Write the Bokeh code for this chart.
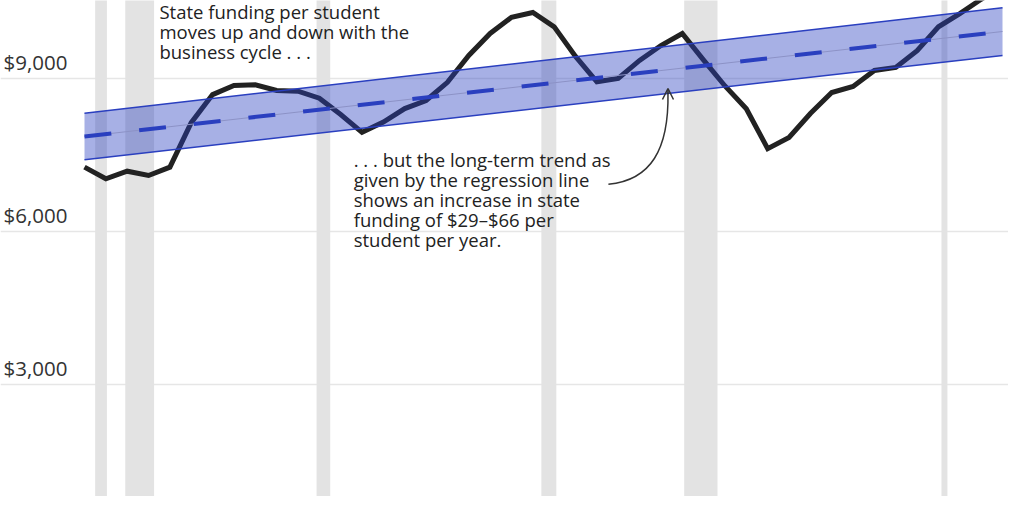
from bokeh.plotting import figure
from bokeh.models import Range1d, Grid, FixedTicker, Label, Arrow, OpenHead
from bokeh.core.properties import value
from bokeh.embed import file_html
from bokeh.resources import INLINE

# state funding per student, one point per year
years = list(range(1980, 2024))
funding = [7266, 7038, 7187, 7103, 7266, 8140, 8690, 8869, 8882, 8770,
           8757, 8620, 8300, 7950, 8150, 8415, 8574, 8930, 9457, 9889,
           10205, 10300, 10020, 9440, 8940, 9006, 9360, 9653, 9889, 9365,
           8859, 8411, 7630, 7848, 8319, 8731, 8849, 9163, 9222, 9550,
           10020, 10280, 10560, 10800]

# regression line and its band, given at the ends of the period
trend_years = [1980, 2023]
trend = [7868, 9928]
trend_low = [7411, 9457]
trend_high = [8325, 10393]

# recessions (start, end) on the same year scale
rec_start = [1980.50, 1981.91, 1990.87, 2001.40, 2008.09, 2020.14]
rec_end = [1981.05, 1983.26, 1991.51, 2002.10, 2009.65, 2020.42]

tick_values = [3000, 6000, 9000]
tick_labels = ["$3,000", "$6,000", "$9,000"]

note1 = ["State funding per student",
         "moves up and down with the",
         "business cycle . . ."]
note2 = [". . . but the long-term trend as",
         "given by the regression line",
         "shows an increase in state",
         "funding of $29\u2013$66 per",
         "student per year."]

FONT = "Open Sans"
INK = "#222222"
BLUE = "#2a3fbf"
X0, X1 = 1976.066, 2023.28

p = figure(width=1008, height=496, output_backend="svg", toolbar_location=None,
           x_axis_location=None, y_axis_location=None, min_border=0,
           x_range=Range1d(X0, X1), y_range=Range1d(804, 10536))
p.outline_line_color = None
p.background_fill_color = "white"
p.border_fill_color = "white"
p.grid.visible = False

p.add_layout(Grid(dimension=1, ticker=FixedTicker(ticks=tick_values),
                  grid_line_color="#e6e6e6", grid_line_width=1.5))

# recession bars
p.quad(left=rec_start, right=rec_end, bottom=0, top=12000,
       fill_color="#e3e3e3", line_color=None)

# funding line
p.line(years, funding, line_color=INK, line_width=5, line_join="miter")

# band on top of the line, semi transparent
p.varea(x=trend_years, y1=trend_low, y2=trend_high, fill_color=BLUE, fill_alpha=0.41)
p.line(trend_years, trend_low, line_color=BLUE, line_width=1.5)
p.line(trend_years, trend_high, line_color=BLUE, line_width=1.5)
p.line(trend_years, trend, line_color="#8c92c6", line_width=1)
p.line(trend_years, trend, line_color=BLUE, line_width=4, line_dash="27 28")

# y tick labels sitting just above their gridlines
p.text(x=[X0] * len(tick_values), y=[v + 334 for v in tick_values], text=tick_labels,
       x_offset=3, text_font=value(FONT), text_font_size="20.5px",
       text_color="#333333", text_baseline="alphabetic", text_align="left")

# annotations
for i, line in enumerate(note1):
    p.add_layout(Label(x=1983.51, y=10324 - i * 392, text=line, text_font=FONT,
                       text_font_size="18.5px", text_color=INK,
                       text_baseline="alphabetic"))
for i, line in enumerate(note2):
    p.add_layout(Label(x=1992.61, y=7413 - i * 392, text=line, text_font=FONT,
                       text_font_size="18.5px", text_color=INK,
                       text_baseline="alphabetic"))

# curved arrow from the note to the band
p.bezier(x0=[2004.54], y0=[6930], x1=[2007.33], y1=[8731],
         cx0=[2006.51], cy0=[7010], cx1=[2007.38], cy1=[7600],
         line_color="#333333", line_width=1.5)
p.add_layout(Arrow(end=OpenHead(size=11, line_color="#333333", line_width=1.5),
                   x_start=2007.33, y_start=8700, x_end=2007.33, y_end=8810,
                   line_color="#333333", line_width=1.5))

open("out.html", "w").write(file_html(p, INLINE))
